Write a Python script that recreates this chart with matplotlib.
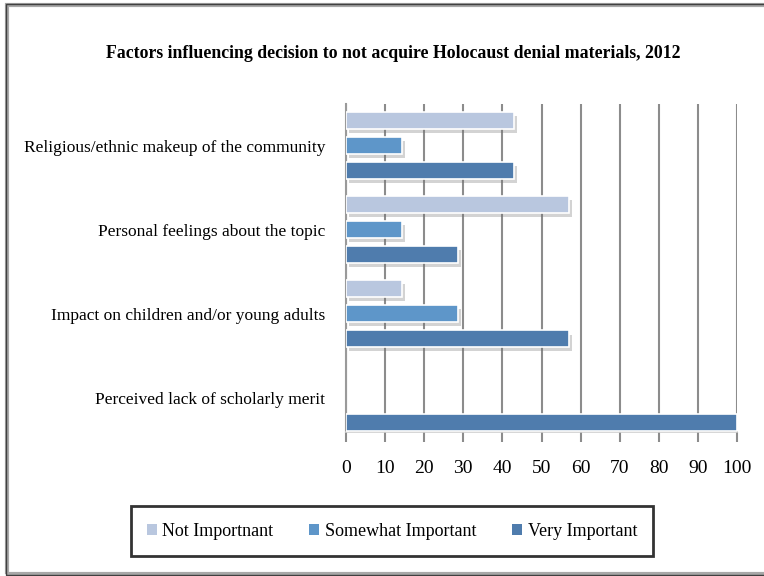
import numpy as np
import matplotlib
matplotlib.use('Agg')
import matplotlib.pyplot as plt
import matplotlib.patheffects as pe
from matplotlib.patches import Patch, Rectangle

plt.rcParams['font.family'] = ['Liberation Serif', 'DejaVu Serif']

# data
categories = ['Religious/ethnic makeup of the community',
              'Personal feelings about the topic',
              'Impact on children and/or young adults',
              'Perceived lack of scholarly merit']
not_important = [42.9, 57.1, 14.3, 0]
somewhat_important = [14.3, 14.3, 28.6, 0]
very_important = [42.9, 28.6, 57.1, 100]
series_names = ['Not Importnant', 'Somewhat Important', 'Very Important']
colors = ['#B9C7DF', '#5E96C9', '#4F7CAD']
x_ticks = list(range(0, 101, 10))

fig = plt.figure(figsize=(7.64, 5.76), dpi=100)
ax = fig.add_axes([346 / 764, 1 - 432 / 576, (737 - 346) / 764, (432 - 104) / 576])

y = np.arange(len(categories))
step = 0.3
h = 0.2
shadow = [pe.SimplePatchShadow(offset=(2, -3), shadow_rgbFace='#707070', alpha=0.3), pe.Normal()]
for i, (vals, col) in enumerate(zip([not_important, somewhat_important, very_important], colors)):
    bars = ax.barh(y + (i - 1) * step, vals, height=h, color=col,
                   edgecolor='white', linewidth=1.2, zorder=3)
    for b, v in zip(bars, vals):
        if v > 0:
            b.set_path_effects(shadow)
        else:
            b.set_visible(False)

ax.set_xlim(0, 100)
ax.set_ylim(3.41, -0.494)
ax.set_xticks(x_ticks)
ax.set_xticklabels([str(t) for t in x_ticks], fontsize=14)
ax.set_yticks(y)
ax.set_yticklabels(categories, fontsize=12.5)
ax.tick_params(axis='y', length=0, pad=15)
ax.tick_params(axis='x', direction='out', length=7, width=1.5, color='#8C8C8C', pad=13)

ax.grid(axis='x', color='#8C8C8C', linewidth=1.5, zorder=0)
ax.set_axisbelow(True)
for s in ['top', 'right']:
    ax.spines[s].set_visible(False)
ax.spines['left'].set_color('#9A9A9A')
ax.spines['left'].set_linewidth(1.5)
ax.spines['bottom'].set_color('#D0D0D0')
ax.spines['bottom'].set_linewidth(1.2)

fig.text(0.515, 1 - 53 / 576,
         'Factors influencing decision to not acquire Holocaust denial materials, 2012',
         ha='center', va='center', fontsize=12.8, fontweight='bold')

handles = [Patch(facecolor=c, edgecolor='none') for c in colors]
leg = fig.legend(handles, series_names, loc='center', bbox_to_anchor=(392 / 764, 1 - 531 / 576),
                 ncol=3, fontsize=13, frameon=True, fancybox=False,
                 handlelength=0.55, handleheight=0.55, handletextpad=0.3,
                 columnspacing=2.0, borderpad=0.9)
leg.get_frame().set_edgecolor('black')
leg.get_frame().set_linewidth(2)

# chart frame
fig.patches.append(Rectangle((7 / 764, 2 / 576), 1.0, 1 - 7 / 576, transform=fig.transFigure,
                             fill=False, edgecolor='#A8A8A8', linewidth=3, zorder=0))
fig.patches.append(Rectangle((6 / 764, 1 / 576), 1.0, 1 - 5 / 576, transform=fig.transFigure,
                             fill=False, edgecolor='#404040', linewidth=1, zorder=0))

fig.savefig('out.png', dpi=100)
